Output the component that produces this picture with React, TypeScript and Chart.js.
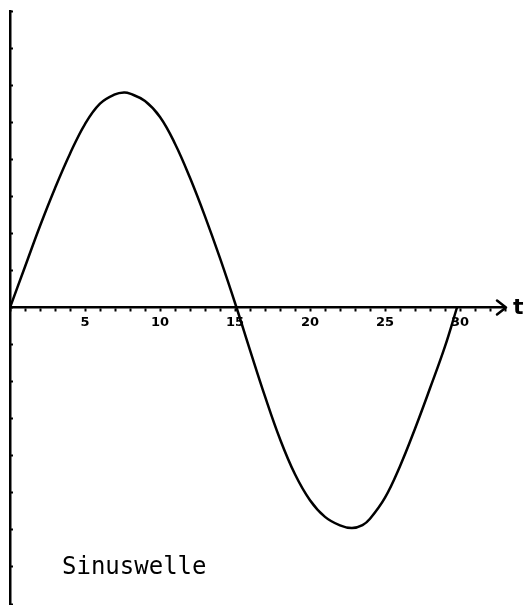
import React, { useEffect, useRef } from "react";
import { Chart, registerables } from "chart.js";

Chart.register(...registerables);

// time values (t)
const tValues = [0, 1, 2, 3, 4, 5, 6, 7, 7.6, 8, 9, 10, 11, 12, 13, 14, 15.1, 16, 17, 18, 19, 20, 21, 22, 22.8, 23.5, 24, 25, 26, 27, 28, 29, 29.8];
// amplitude values
const waveValues = [0, 1.1, 2.2, 3.22, 4.15, 4.95, 5.5, 5.75, 5.8, 5.77, 5.57, 5.14, 4.42, 3.5, 2.46, 1.33, 0, -1.15, -2.4, -3.55, -4.5, -5.2, -5.65, -5.88, -5.95, -5.87, -5.7, -5.13, -4.28, -3.27, -2.18, -1.05, 0];
// labelled ticks on the t axis
const xTickLabels = [5, 10, 15, 20, 25, 30];
const xRange = [0, 33];
const yRange = [-8, 8];
const axisLabel = "t";
const captionText = "Sinuswelle";

export default function App() {
  const ref = useRef<HTMLCanvasElement | null>(null);

  useEffect(() => {
    if (!ref.current) return;
    const overlay = {
      id: "overlay",
      afterDraw(chart: any) {
        const ctx = chart.ctx;
        const xs = chart.scales.x;
        const ys = chart.scales.y;
        const ax = xs.getPixelForValue(xRange[1]);
        const ay = ys.getPixelForValue(0);
        ctx.save();
        ctx.strokeStyle = "#000";
        ctx.lineWidth = 2.5;
        ctx.lineCap = "round";
        ctx.lineJoin = "round";
        ctx.beginPath();
        ctx.moveTo(ax - 8, ay - 7);
        ctx.lineTo(ax + 1, ay);
        ctx.lineTo(ax - 8, ay + 7);
        ctx.stroke();
        ctx.fillStyle = "#000";
        ctx.font = "bold 22px 'DejaVu Sans'";
        ctx.textAlign = "left";
        ctx.textBaseline = "middle";
        ctx.fillText(axisLabel, ax + 8, ay + 1);
        ctx.font = "24px 'DejaVu Sans Mono'";
        ctx.textBaseline = "alphabetic";
        ctx.fillText(captionText, 62, 574);
        ctx.restore();
      },
    };

    const chart = new Chart(ref.current, {
      type: "line",
      data: {
        datasets: [
          {
            data: tValues.map((t, i) => ({ x: t, y: waveValues[i] })),
            borderColor: "#000",
            borderWidth: 2.5,
            pointRadius: 0,
            fill: false,
            tension: 0.4,
          },
        ],
      },
      options: {
        animation: false,
        responsive: false,
        devicePixelRatio: 1,
        layout: { padding: { left: 10, right: 25, top: 11, bottom: 1 } },
        plugins: { legend: { display: false }, tooltip: { enabled: false }, title: { display: false } },
        scales: {
          x: {
            type: "linear",
            min: xRange[0],
            max: xRange[1],
            position: { y: 0 },
            afterFit: (s: any) => {
              s.height = 0;
            },
            border: { display: true, color: "#000", width: 2.5 },
            grid: { drawOnChartArea: false, color: "#000", tickLength: 3, tickWidth: 2 },
            ticks: {
              stepSize: 1,
              autoSkip: false,
              maxRotation: 0,
              padding: 4,
              color: "#000",
              font: { family: "'DejaVu Sans'", size: 13, weight: "bold" },
              callback: (v: any) => (xTickLabels.includes(Number(v)) ? String(v) : ""),
            },
          },
          y: {
            type: "linear",
            min: yRange[0],
            max: yRange[1],
            position: { x: 0 },
            afterFit: (s: any) => {
              s.width = 0;
            },
            border: { display: true, color: "#000", width: 2.5 },
            grid: { drawOnChartArea: false, color: "#000", tickLength: -4, tickWidth: 2 },
            ticks: { stepSize: 1, display: false },
          },
        },
      },
      plugins: [overlay],
    } as any);
    return () => chart.destroy();
  }, []);

  return (
    <div style={{ position: "fixed", left: 0, top: 0, width: 530, height: 605, background: "#fff" }}>
      <canvas ref={ref} width={530} height={605} />
    </div>
  );
}
